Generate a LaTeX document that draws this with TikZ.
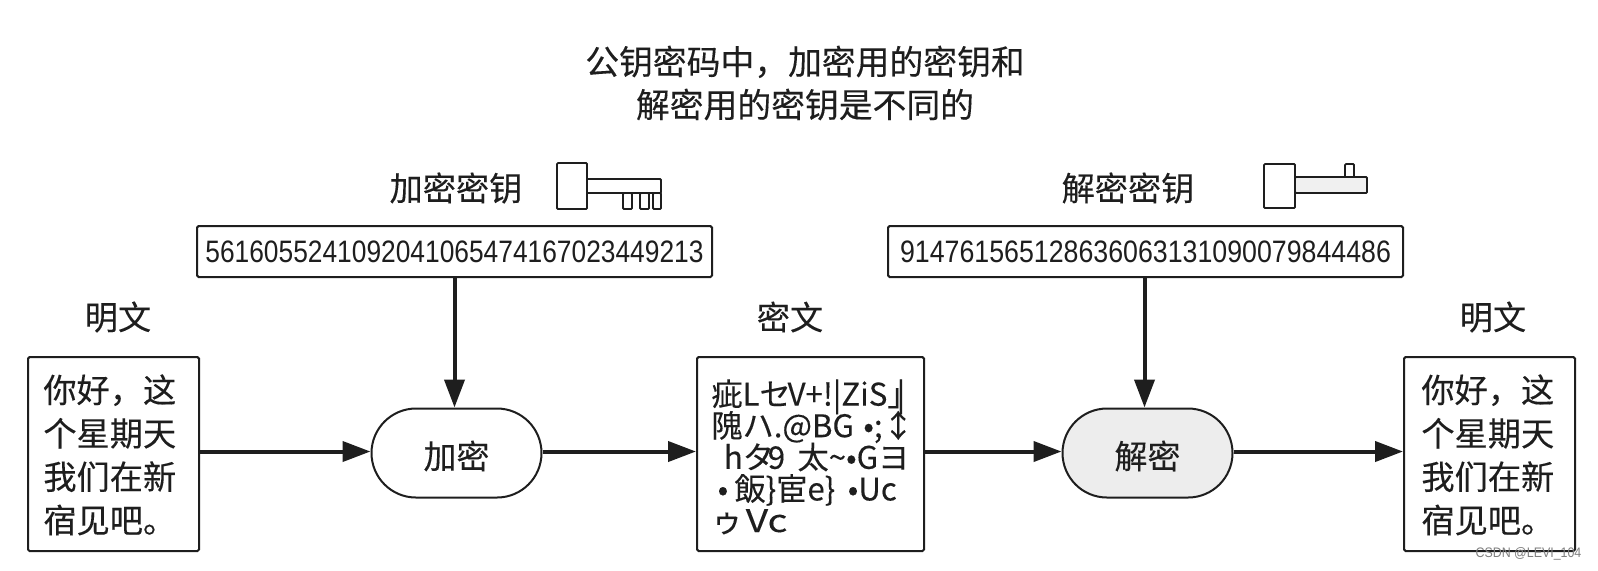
\documentclass[tikz,border=0pt]{standalone}
\usepackage{fontspec}
\usetikzlibrary{arrows.meta,shapes.misc}
\setmainfont[FakeBold=0.2]{Noto Sans CJK SC}
\newfontfamily\jpf[FakeBold=0.15]{Noto Sans CJK JP}
\newfontfamily\numa[FakeStretch=0.85]{Liberation Sans}
\newfontfamily\numb[FakeStretch=0.863]{Liberation Sans}
\newfontfamily\markf[FakeStretch=0.9]{Liberation Sans}
\definecolor{ink}{HTML}{1E1E1E}
\AtBeginDocument{\lineskiplimit=-20pt\relax}
\tikzset{
  every node/.style={text=ink},
  box/.style={draw=ink,line width=1pt,rounded corners=0.8pt,inner sep=0pt,fill=white},
  pill/.style={draw=ink,line width=1pt,rounded rectangle,rounded rectangle arc length=180,inner sep=0pt,minimum width=85pt,minimum height=44.5pt,font=\fontsize{16.5}{20}\selectfont},
  txt/.style={inner sep=0pt,font=\fontsize{16.6}{20}\selectfont},
  keynum/.style={box,minimum width=257.5pt,minimum height=25.5pt},
  plainbox/.style={box,minimum width=85.5pt,minimum height=97pt},
  body/.style={inner sep=0pt,align=left,anchor=north west,font=\fontsize{16.6}{21.7}\selectfont},
  flow/.style={draw=ink,line width=2pt,-{Triangle[length=14pt,width=10pt]},shorten >=0pt},
  keyline/.style={draw=ink,line width=0.9pt,rounded corners=0.5pt}
}
\begin{document}
\begin{tikzpicture}[x=0.5pt,y=-0.5pt]
\useasboundingbox (0,0) rectangle (1598,570);
\coordinate (midline) at (0,451.5);
\node[txt,align=center,font=\fontsize{16.9}{21.5}\selectfont] (title) at (805,83) {公钥密码中，加密用的密钥和\\解密用的密钥是不同的};
\node[txt] (enclabel) at (456,188) {加密密钥};
\node[txt] (declabel) at (1128,188) {解密密钥};
\node[txt] (p1label) at (118,317) {明文};
\node[txt] (clabel) at (790,317) {密文};
\node[txt] (p2label) at (1493,317) {明文};
\node[keynum,font=\numa\fontsize{15.5}{16}\selectfont] (k1) at (454.5,251.5) {5616055241092041065474167023449213};
\node[keynum,font=\numb\fontsize{15.5}{16}\selectfont] (k2) at (1145.5,251.5) {914761565128636063131090079844486};
\node[plainbox] (p1) at (113.5,454) {};
\node[plainbox,minimum width=113.5pt] (c) at (810.5,454) {};
\node[plainbox] (p2) at (1489.5,454) {};
\node[pill] (enc) at (456.5,453) {\raisebox{-1.5pt}[\height][\depth]{加密}};
\node[pill,fill=black!7] (dec) at (1147.5,453) {\raisebox{-1.5pt}[\height][\depth]{解密}};
\node[body] (p1text) at (43,374) {你好，这\\个星期天\\我们在新\\宿见吧。};
\node[body] (p2text) at (1421,374) {你好，这\\个星期天\\我们在新\\宿见吧。};
\node[inner sep=0pt,align=left,anchor=north west,font=\jpf\fontsize{15.6}{15.8}\selectfont] (ctext) at (711,379) {疵Lセ\hspace{-0.1em}V+!|ZiS」\hspace{-0.7em}|\\隗ハ.@BG\hspace{0.3em}•;↕\\\hspace*{0.4em}hタ\hspace{-0.2em}9\hspace{0.4em}太\textasciitilde•Gヨ\\\hspace*{0.2em}•\hspace{0.2em}飯\}宦e\}\hspace{0.4em}•Uc\\ゥ\hspace{0.1em}\scalebox{1.25}[1]{Vc}};
\draw[flow] (p1.east |- midline) -- (enc.west |- midline);
\draw[flow] (enc.east |- midline) -- (c.west |- midline);
\draw[flow] (c.east |- midline) -- (dec.west |- midline);
\draw[flow] (dec.east |- midline) -- (p2.west |- midline);
\draw[flow] (k1.south) -- (k1.south |- enc.north);
\draw[flow] ([xshift=-0.5pt]k2.south) -- ([xshift=-0.5pt]k2.south |- dec.north);
% keys
\draw[keyline] (557,163) rectangle (587,209);
\draw[keyline] (587,179) -- (661,179) -- (661,193) -- (587,193);
\draw[keyline] (623,193) rectangle (632,209);
\draw[keyline] (640,193) rectangle (649,209);
\draw[keyline] (653,193) rectangle (661,209);
\draw[keyline] (1264,164) rectangle (1295,208);
\draw[keyline,fill=black!6] (1295,177) rectangle (1367,193);
\draw[keyline] (1345,177) -- (1345,164) -- (1354,164) -- (1354,177);
\node[inner sep=0pt,text=black!50,font=\markf\fontsize{6.9}{9}\selectfont] (mark) at (1528.5,554) {CSDN @LEVI\_104};
\end{tikzpicture}
\end{document}
